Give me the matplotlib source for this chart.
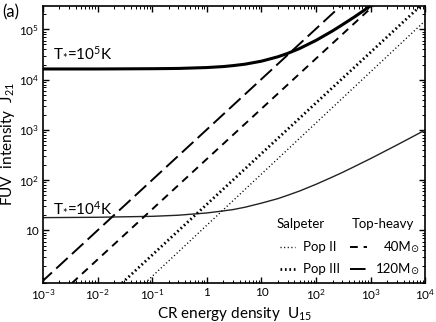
import numpy as np
import matplotlib
matplotlib.use("Agg")
import matplotlib.pyplot as plt
from matplotlib.ticker import LogLocator, FixedLocator, FixedFormatter, NullFormatter

plt.rcParams['font.family'] = ['Lato', 'DejaVu Sans']
plt.rcParams['mathtext.fontset'] = 'custom'
plt.rcParams['mathtext.rm'] = 'Lato'
plt.rcParams['mathtext.it'] = 'Lato'

# FUV intensity for the two stellar temperatures
u_t4 = [1e-3, 1e-2, 0.1, 0.3, 1, 2, 3, 5, 10, 20, 30, 50, 100, 200, 300, 500,
        1000, 2000, 3000, 5000, 1e4]
j_t4 = [18, 18.3, 19.1, 20.1, 22.3, 24.5, 26, 29, 35, 43, 50, 61, 83, 116, 142, 186,
        270, 398, 500, 670, 1000]
u_t5 = [1e-3, 1e-2, 0.1, 0.3, 1, 2, 3, 5, 10, 20, 30, 50, 100, 200, 300, 500,
        700, 1000, 2000]
j_t5 = [1.63e4, 1.63e4, 1.65e4, 1.67e4, 1.74e4, 1.82e4, 1.9e4, 2.03e4, 2.33e4,
        2.85e4, 3.32e4, 4.17e4, 6.05e4, 9.32e4, 1.23e5, 1.76e5, 2.26e5, 2.95e5, 5.0e5]

# CR-heating lines (endpoints)
u_popii = [0.074, 1e4]
j_popii = [0.9, 1.5e5]
u_popiii = [0.028, 1e4]
j_popiii = [0.9, 3.6e5]
u_40 = [3.4e-3, 1100]
j_40 = [0.9, 2.9e5]
u_120 = [9e-4, 280]
j_120 = [0.9, 2.9e5]

fig = plt.figure(figsize=(4.36, 3.22), dpi=100)
ax = fig.add_axes([0.0986, 0.121, 0.877, 0.860])

ax.plot(u_t5, j_t5, color='black', lw=2.2)
ax.plot(u_t4, j_t4, color='#222222', lw=1.0)
ax.plot(u_popii, j_popii, color='black', lw=1.0, linestyle=(0, (0.8, 1.8)))
ax.plot(u_popiii, j_popiii, color='black', lw=2.0, linestyle=(0, (0.6, 1.0)))
ax.plot(u_40, j_40, color='black', lw=1.4, linestyle=(0, (4, 3)))
ax.plot(u_120, j_120, color='black', lw=1.4, linestyle=(0, (8, 3)))

ax.set_xscale('log')
ax.set_yscale('log')
ax.set_xlim(1e-3, 1e4)
ax.set_ylim(0.9, 2.9e5)

xt = [1e-3, 1e-2, 1e-1, 1, 10, 1e2, 1e3, 1e4]
xl = ['$10^{-3}$', '$10^{-2}$', '$10^{-1}$', '1', '10', '$10^{2}$', '$10^{3}$', '$10^{4}$']
yt = [10, 1e2, 1e3, 1e4, 1e5]
yl = ['10', '$10^{2}$', '$10^{3}$', '$10^{4}$', '$10^{5}$']
ax.xaxis.set_major_locator(FixedLocator(xt))
ax.xaxis.set_major_formatter(FixedFormatter(xl))
ax.yaxis.set_major_locator(FixedLocator(yt))
ax.yaxis.set_major_formatter(FixedFormatter(yl))
ax.xaxis.set_minor_locator(LogLocator(base=10, subs=np.arange(2, 10), numticks=20))
ax.yaxis.set_minor_locator(LogLocator(base=10, subs=np.arange(2, 10), numticks=20))
ax.xaxis.set_minor_formatter(NullFormatter())
ax.yaxis.set_minor_formatter(NullFormatter())
ax.tick_params(which='both', direction='in', top=True, right=True, labelsize=8.5)
ax.tick_params(which='major', length=4, width=1, pad=3)
ax.tick_params(which='minor', length=2, width=0.7)
for s in ax.spines.values():
    s.set_linewidth(1.2)

ax.set_xlabel('CR energy density  U$_{15}$', fontsize=11, labelpad=2)
ax.set_ylabel('FUV  intensity  J$_{21}$', fontsize=11, labelpad=1)

fig.text(0.005, 0.962, '(a)', fontsize=12, va='center', ha='left')
ax.text(0.025, 0.83, 'T$_{*}$=10$^{5}$K', transform=ax.transAxes, fontsize=11, va='center')
ax.text(0.025, 0.27, 'T$_{*}$=10$^{4}$K', transform=ax.transAxes, fontsize=11, va='center')

# hand-made legend
tr = ax.transAxes
ax.text(0.673, 0.215, 'Salpeter', transform=tr, fontsize=9.5, ha='center', va='center')
ax.text(0.888, 0.215, 'Top-heavy', transform=tr, fontsize=9.5, ha='center', va='center')
ax.plot([0.620, 0.660], [0.130, 0.130], transform=tr, color='black', lw=1.0,
        linestyle=(0, (0.8, 1.8)))
ax.text(0.680, 0.130, 'Pop II', transform=tr, fontsize=9.5, va='center')
ax.plot([0.620, 0.660], [0.050, 0.050], transform=tr, color='black', lw=2.0,
        linestyle=(0, (0.6, 1.0)))
ax.text(0.680, 0.050, 'Pop III', transform=tr, fontsize=9.5, va='center')
ax.plot([0.803, 0.848], [0.130, 0.130], transform=tr, color='black', lw=1.4,
        linestyle=(0, (4, 3)))
ax.text(0.963, 0.130, '40M', transform=tr, fontsize=9.5, va='center', ha='right')
ax.text(0.961, 0.122, '\u2299', transform=tr, fontsize=7, va='center', ha='left')
ax.plot([0.803, 0.848], [0.050, 0.050], transform=tr, color='black', lw=1.4,
        linestyle=(0, (8, 3)))
ax.text(0.963, 0.050, '120M', transform=tr, fontsize=9.5, va='center', ha='right')
ax.text(0.961, 0.042, '\u2299', transform=tr, fontsize=7, va='center', ha='left')

fig.savefig('out.png', dpi=100)
